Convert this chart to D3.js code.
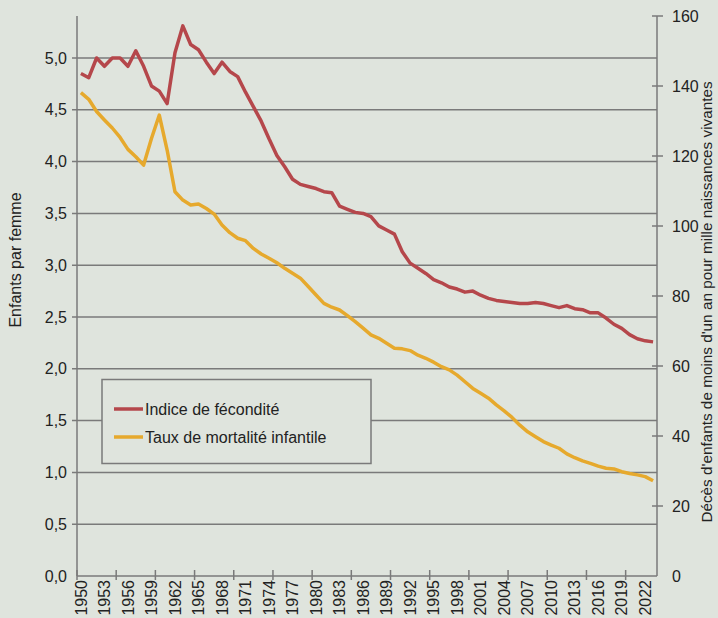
<!DOCTYPE html>
<html>
<head>
<meta charset="utf-8">
<script src="https://cdn.jsdelivr.net/npm/d3@7"></script>
<style>
	body { margin: 0; background: #dfe4dd; }
	svg { display: block; font-family: "Liberation Sans", Arial, sans-serif; }
</style>
</head>
<body>
<svg id="chart" width="718" height="618"></svg>
<script>
// data
const years = d3.range(1950, 2024)
const fertility = [
	4.85, 4.81, 5.00, 4.92, 5.00, 5.00, 4.92, 5.07, 4.92, 4.73,
	4.68, 4.56, 5.05, 5.31, 5.13, 5.08, 4.96, 4.85, 4.96, 4.87,
	4.82, 4.67, 4.53, 4.39, 4.22, 4.06, 3.95, 3.83, 3.78, 3.76,
	3.74, 3.71, 3.70, 3.57, 3.54, 3.51, 3.50, 3.47, 3.38, 3.34,
	3.30, 3.13, 3.02, 2.97, 2.92, 2.86, 2.83, 2.79, 2.77, 2.74,
	2.75, 2.71, 2.68, 2.66, 2.65, 2.64, 2.63, 2.63, 2.64, 2.63,
	2.61, 2.59, 2.61, 2.58, 2.57, 2.54, 2.54, 2.49, 2.43, 2.39,
	2.33, 2.29, 2.27, 2.26
]
const mortality = [
	138.1, 136.2, 132.7, 130.3, 128.0, 125.3, 121.9, 119.8, 117.4, 125.0,
	131.7, 121.7, 109.8, 107.4, 106.0, 106.3, 105.0, 103.4, 100.3, 98.1,
	96.5, 95.8, 93.6, 92.0, 90.8, 89.5, 87.9, 86.5, 85.1, 82.7,
	80.3, 77.9, 76.8, 76.0, 74.4, 72.7, 70.8, 68.9, 67.9, 66.5,
	65.1, 64.9, 64.4, 63.1, 62.2, 61.1, 59.8, 58.9, 57.4, 55.5,
	53.6, 52.2, 50.8, 48.9, 47.2, 45.3, 43.1, 41.2, 39.8, 38.4,
	37.4, 36.5, 34.9, 33.8, 32.9, 32.2, 31.4, 30.8, 30.6, 29.8,
	29.3, 28.9, 28.4, 27.2
]
const leftTicks = [0, 0.5, 1, 1.5, 2, 2.5, 3, 3.5, 4, 4.5, 5]
const rightTicks = [0, 20, 40, 60, 80, 100, 120, 140, 160]
const labelYears = years.filter(y => (y - 1950) % 3 == 0)
const tickYears = years.filter(y => (y - 1950) % 5 == 0)
const series = [
	{ name: "Indice de fécondité", values: fertility, color: "#b5474b", axis: "left" },
	{ name: "Taux de mortalité infantile", values: mortality, color: "#e6a92d", axis: "right" }
]

// layout
const mLeft = 77, mRight = 657, mTop = 16, mBottom = 576
const axisColor = "#7a7a7a"
const textColor = "#222"

const svg = d3.select("#chart")

const x = d3.scaleBand().domain(years).range([mLeft, mRight])
const xc = y => x(y) + x.bandwidth() / 2
const yL = d3.scaleLinear().domain([0, 5]).range([mBottom, 58])
const yR = d3.scaleLinear().domain([0, 160]).range([mBottom, mTop])

// gridlines
svg.append("g")
	.selectAll("line")
	.data(leftTicks.filter(d => d > 0))
	.join("line")
	.attr("x1", mLeft - 5).attr("x2", mRight)
	.attr("y1", d => yL(d)).attr("y2", d => yL(d))
	.attr("stroke", axisColor)
	.attr("stroke-width", 1.5)

// left axis
svg.append("line")
	.attr("x1", mLeft).attr("x2", mLeft).attr("y1", mTop).attr("y2", mBottom)
	.attr("stroke", axisColor).attr("stroke-width", 1.5)
svg.append("g")
	.selectAll("text")
	.data(leftTicks)
	.join("text")
	.attr("x", mLeft - 10)
	.attr("y", d => yL(d))
	.attr("dy", "0.35em")
	.attr("text-anchor", "end")
	.attr("font-size", 16)
	.attr("fill", textColor)
	.text(d => d3.format(".1f")(d).replace(".", ","))

// right axis
svg.append("line")
	.attr("x1", mRight).attr("x2", mRight).attr("y1", mTop).attr("y2", mBottom)
	.attr("stroke", axisColor).attr("stroke-width", 1.5)
let rt = svg.append("g")
rt.selectAll("line")
	.data(rightTicks.filter(d => d > 0))
	.join("line")
	.attr("x1", mRight - 5).attr("x2", mRight + 6)
	.attr("y1", d => yR(d)).attr("y2", d => yR(d))
	.attr("stroke", axisColor).attr("stroke-width", 1.5)
rt.selectAll("text")
	.data(rightTicks)
	.join("text")
	.attr("x", mRight + 15)
	.attr("y", d => yR(d))
	.attr("dy", "0.35em")
	.attr("font-size", 16)
	.attr("fill", textColor)
	.text(d => d)

// x axis
svg.append("line")
	.attr("x1", mLeft).attr("x2", mRight).attr("y1", mBottom).attr("y2", mBottom)
	.attr("stroke", axisColor).attr("stroke-width", 1.5)
svg.append("g")
	.selectAll("line")
	.data(tickYears)
	.join("line")
	.attr("x1", d => x(d)).attr("x2", d => x(d))
	.attr("y1", mBottom - 6).attr("y2", mBottom + 4)
	.attr("stroke", axisColor).attr("stroke-width", 1.5)
svg.append("g")
	.selectAll("text")
	.data(labelYears)
	.join("text")
	.attr("transform", d => `translate(${xc(d)},${mBottom + 4}) rotate(-90)`)
	.attr("dy", "0.35em")
	.attr("text-anchor", "end")
	.attr("font-size", 16)
	.attr("fill", textColor)
	.text(d => d)

// axis titles
svg.append("text")
	.attr("transform", "translate(15,260) rotate(-90)")
	.attr("dy", "0.35em")
	.attr("text-anchor", "middle")
	.attr("font-size", 16)
	.attr("fill", textColor)
	.text("Enfants par femme")
svg.append("text")
	.attr("transform", "translate(707,302) rotate(-90)")
	.attr("dy", "0.35em")
	.attr("text-anchor", "middle")
	.attr("font-size", 15.3)
	.attr("fill", textColor)
	.text("Décès d'enfants de moins d'un an pour mille naissances vivantes")

// lines
for (let s of series) {
	let yy = s.axis == "left" ? yL : yR
	let line = d3.line()
		.x((d, i) => xc(years[i]))
		.y(d => yy(d))
	svg.append("path")
		.datum(s.values)
		.attr("d", line)
		.attr("fill", "none")
		.attr("stroke", s.color)
		.attr("stroke-width", 3.5)
		.attr("stroke-linejoin", "round")
}

// legend
let lg = svg.append("g")
lg.append("rect")
	.attr("x", 102).attr("y", 379.5)
	.attr("width", 269).attr("height", 84)
	.attr("fill", "#dfe4dd")
	.attr("stroke", axisColor).attr("stroke-width", 1.5)
let item = lg.selectAll(".item")
	.data(series)
	.join("g")
	.attr("class", "item")
	.attr("transform", (d, i) => `translate(114,${409 + i * 28})`)
item.append("line")
	.attr("x1", 0).attr("x2", 29)
	.attr("stroke", d => d.color).attr("stroke-width", 3.5)
item.append("text")
	.attr("x", 31)
	.attr("dy", "0.35em")
	.attr("font-size", 16)
	.attr("fill", textColor)
	.text(d => d.name)
</script>
</body>
</html>
